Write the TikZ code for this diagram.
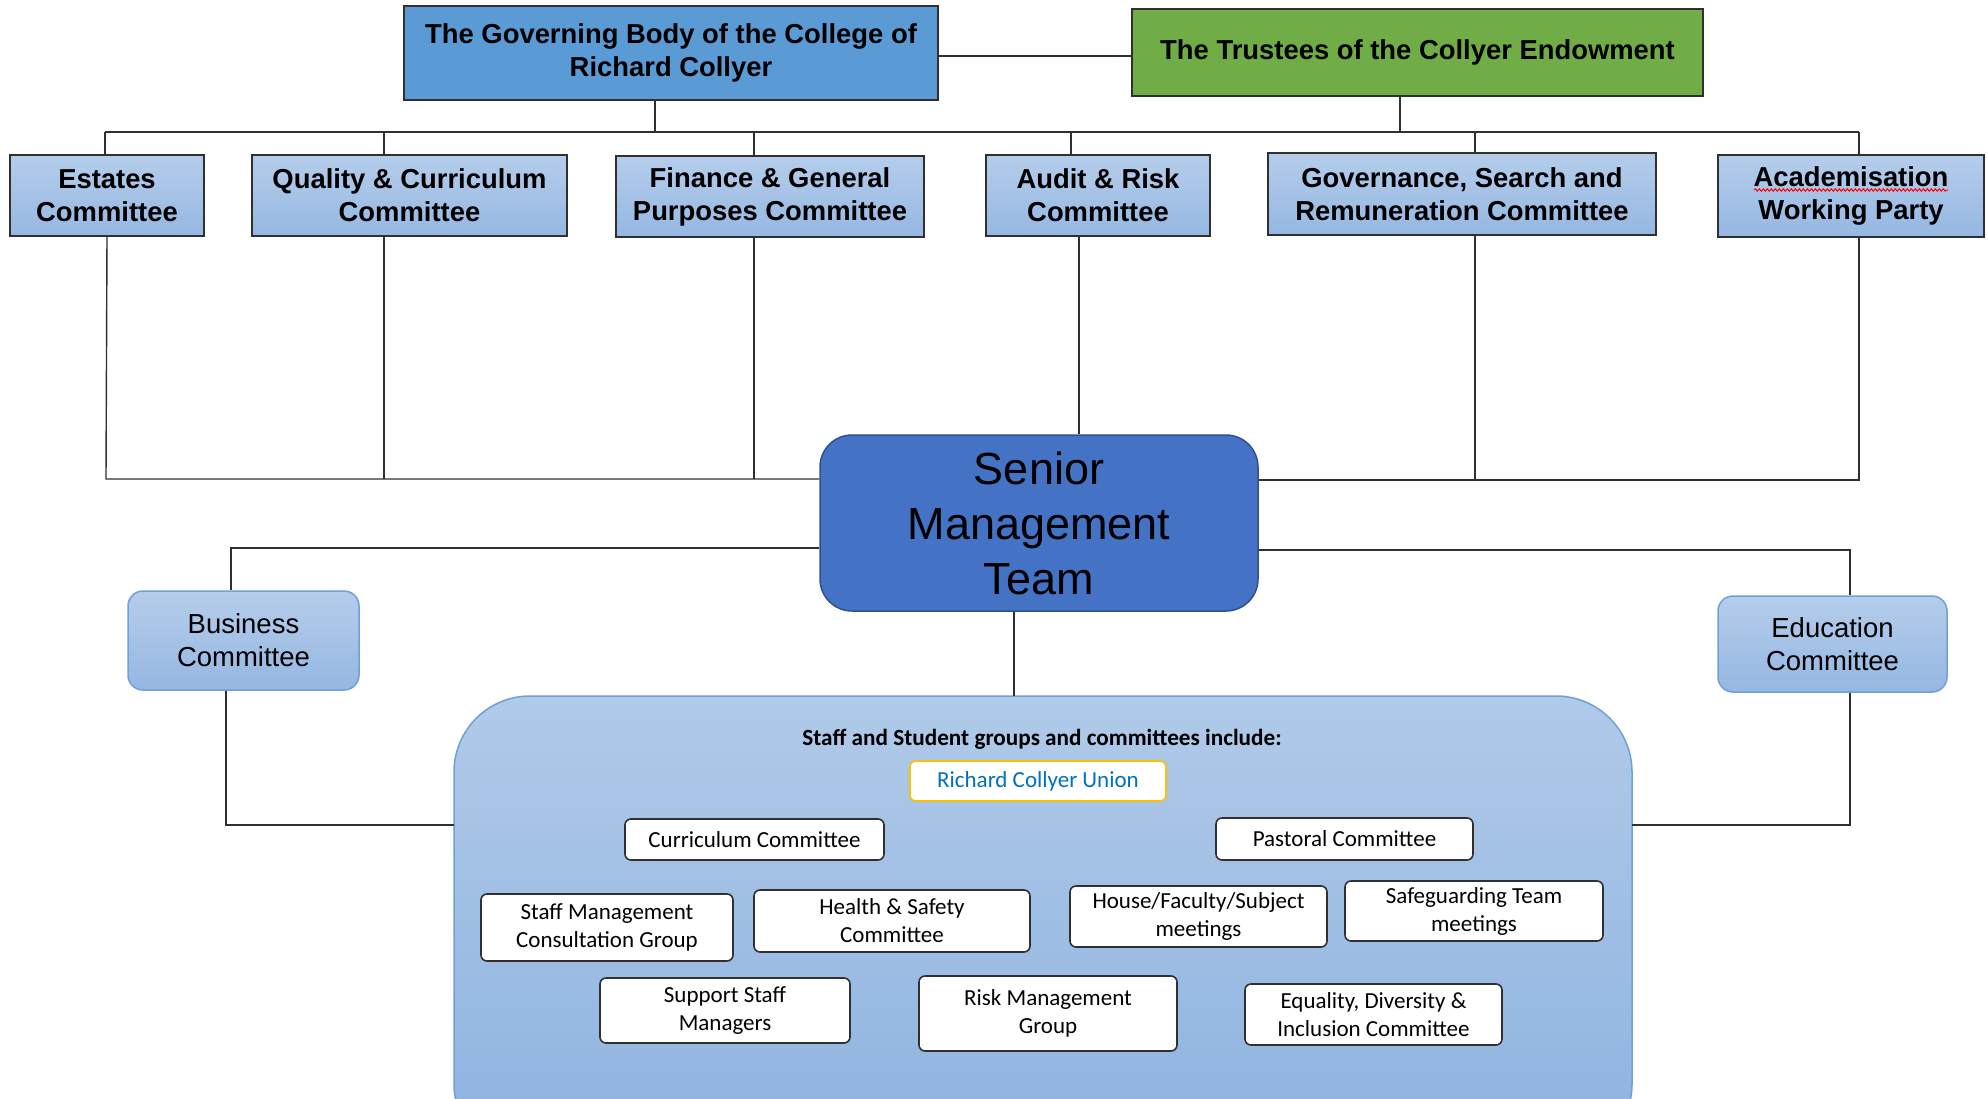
\documentclass[tikz,border=0pt]{standalone}
\usepackage{fontspec}
\setmainfont{Liberation Sans}
\newfontfamily\calibrifont{Carlito}
\usetikzlibrary{decorations.pathmorphing}
\definecolor{govblue}{HTML}{5B9BD5}
\definecolor{trustgreen}{HTML}{70AD47}
\definecolor{smtblue}{HTML}{4472C4}
\definecolor{smtborder}{HTML}{2F528F}
\definecolor{lbtop}{HTML}{B5CDEB}
\definecolor{lbbot}{HTML}{95B7E2}
\definecolor{softborder}{HTML}{6FA0D8}
\definecolor{bigtop}{HTML}{B0CAE9}
\definecolor{bigbot}{HTML}{8DB2DF}
\definecolor{unionborder}{HTML}{FFC000}
\definecolor{uniontext}{HTML}{0070C0}
\definecolor{lineclr}{HTML}{303030}
\newcommand\boldtxt{\fontsize{27.4}{33}\selectfont\bfseries}
\newcommand\midtxt{\fontsize{27.5}{33}\selectfont}
\newcommand\smttxt{\fontsize{45}{55}\selectfont}
\newcommand\smalltxt{\calibrifont\fontsize{23}{28}\selectfont}
\tikzset{
  topbox/.style={draw=lineclr, line width=1.5pt, inner sep=0pt, align=center, font=\boldtxt},
  combox/.style={topbox, top color=lbtop, bottom color=lbbot},
  sidebox/.style={draw=softborder, line width=1.5pt, rounded corners=15pt, inner sep=0pt, align=center, font=\midtxt, top color=lbtop, bottom color=lbbot},
  smallbox/.style={draw=lineclr, line width=1.6pt, rounded corners=6pt, fill=white, inner sep=0pt, align=center, font=\smalltxt},
  conn/.style={draw=lineclr, line width=1.4pt}
}
\begin{document}
\begin{tikzpicture}[x=1pt,y=-1pt]
\useasboundingbox (0,0) rectangle (1988,1098);
\clip (0,0) rectangle (1988,1098);
\fill[white] (0,0) rectangle (1988,1098);

% top level
\node[topbox, fill=govblue, minimum width=534, minimum height=94] (gov) at (671,53) {The Governing Body of the College of\\Richard Collyer};
\node[topbox, fill=trustgreen, minimum width=571, minimum height=87] (trust) at (1417.5,52.5) {The Trustees of the Collyer Endowment};

% committee row
\node[combox, minimum width=194, minimum height=81] (estates) at (107,195.5) {Estates\\Committee};
\node[combox, minimum width=315, minimum height=81] (quality) at (409.5,195.5) {Quality \& Curriculum\\Committee};
\node[combox, minimum width=308, minimum height=81] (finance) at (770,196.5) {Finance \& General\\Purposes Committee};
\node[combox, minimum width=224, minimum height=81] (audit) at (1098,195.5) {Audit \& Risk\\Committee};
\node[combox, minimum width=388, minimum height=82] (govsearch) at (1462,194) {Governance, Search and\\Remuneration Committee};
\node[combox, minimum width=266, minimum height=82] (acad) at (1851,196) {Academisation\\Working Party};
\draw[red, line width=1pt, decorate, decoration={snake, segment length=4pt, amplitude=1.2pt}] (1754,190) -- (1948,190);

% senior management team
\node[draw=smtborder, line width=1.5pt, fill=smtblue, rounded corners=32pt, minimum width=438, minimum height=176, inner sep=0pt, align=center, font=\smttxt] (smt) at (1039,523) {Senior\\Management\\Team};

% side committees
\node[sidebox, minimum width=231, minimum height=99] (business) at (243.5,640.5) {Business\\Committee};
\node[sidebox, minimum width=229, minimum height=96] (education) at (1832.5,644) {Education\\Committee};

% big staff box
\path[draw=softborder, line width=1.5pt, rounded corners=76pt, top color=bigtop, bottom color=bigbot] (454,696) rectangle (1632,1160);
\coordinate (bigtopc) at (1014,696);
\coordinate (bigleft) at (454,825);
\coordinate (bigright) at (1632,825);

\node[font=\calibrifont\fontsize{23.2}{28}\selectfont\bfseries] (title) at (1042,739) {Staff and Student groups and committees include:};
\node[smallbox, draw=unionborder, text=uniontext, minimum width=256, minimum height=40] (union) at (1038,781) {Richard Collyer Union};
\node[smallbox, minimum width=259, minimum height=41] (curr) at (754.5,839.5) {Curriculum Committee};
\node[smallbox, minimum width=257, minimum height=42] (past) at (1344.5,839) {Pastoral Committee};
\node[smallbox, minimum width=252, minimum height=67] (staffm) at (607,927.5) {Staff Management\\Consultation Group};
\node[smallbox, minimum width=276, minimum height=62] (health) at (892,921) {Health \& Safety\\Committee};
\node[smallbox, minimum width=257, minimum height=61] (house) at (1198.5,916.5) {House/Faculty/Subject\\meetings};
\node[smallbox, minimum width=258, minimum height=60] (safeg) at (1474,911) {Safeguarding Team\\meetings};
\node[smallbox, minimum width=250, minimum height=65] (support) at (725,1010.5) {Support Staff\\Managers};
\node[smallbox, minimum width=258, minimum height=75] (risk) at (1048,1013.5) {Risk Management\\Group};
\node[smallbox, minimum width=257, minimum height=61] (equal) at (1373.5,1014.5) {Equality, Diversity \&\\Inclusion Committee};

% connectors: top
\draw[conn] (gov.east |- 0,56) -- (trust.west |- 0,56);
\coordinate (busL) at (105,132);
\coordinate (busR) at (1859,132);
\draw[conn] (busL) -- (busR);
\draw[conn] (gov.south -| 655,0) -- (655,132);
\draw[conn] (trust.south -| 1400,0) -- (1400,132);
\draw[conn] (busL) -- (busL |- estates.north);
\draw[conn] (384,132) -- (384,132 |- quality.north);
\draw[conn] (754,132) -- (754,132 |- finance.north);
\draw[conn] (1071,132) -- (1071,132 |- audit.north);
\draw[conn] (1475,132) -- (1475,132 |- govsearch.north);
\draw[conn] (busR) -- (busR |- acad.north);

% connectors: committees to SMT
\coordinate (lowL) at (106,479);
\coordinate (lowR) at (1859,480);
\draw[conn] (estates.south -| 107,0) -- (lowL) -- (lowL -| smt.west);
\draw[conn] (quality.south -| 384,0) -- (384,479);
\draw[conn] (finance.south -| 754,0) -- (754,479);
\draw[conn] (audit.south -| 1079,0) -- (smt.north -| 1079,0);
\draw[conn] (govsearch.south -| 1475,0) -- (1475,480);
\draw[conn] (acad.south -| lowR) -- (lowR) -- (lowR -| smt.east);

% SMT to side committees and big box
\coordinate (bizturn) at (231,548);
\coordinate (eduturn) at (1850,550);
\draw[conn] (smt.west |- bizturn) -- (bizturn) -- (bizturn |- business.north);
\draw[conn] (smt.east |- eduturn) -- (eduturn) -- (eduturn |- education.north);
\draw[conn] (business.south -| 226,0) -- (226,825) -- (bigleft);
\draw[conn] (education.south -| 1850,0) -- (1850,825) -- (bigright);
\draw[conn] (smt.south -| bigtopc) -- (bigtopc);
\end{tikzpicture}
\end{document}
